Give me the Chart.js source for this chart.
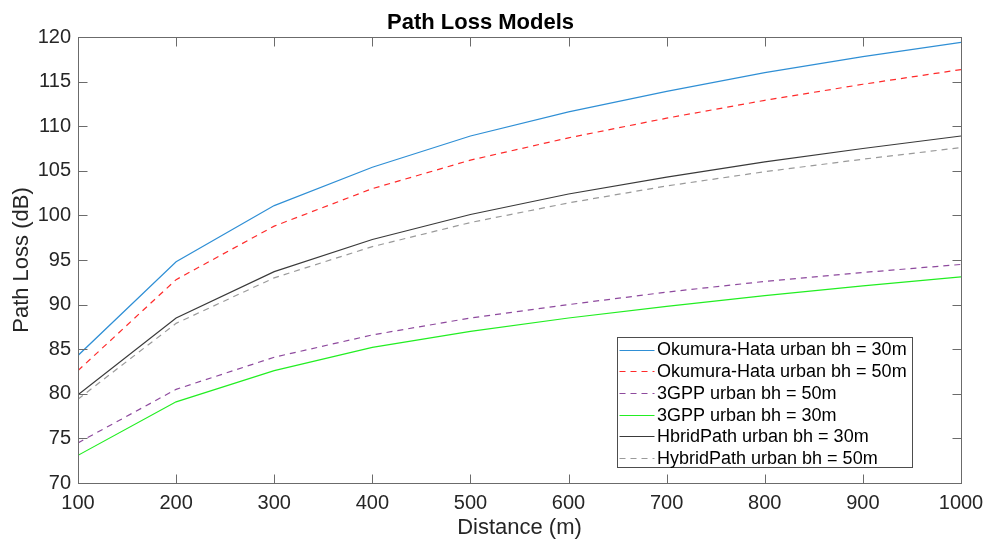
<!DOCTYPE html>
<html>
<head>
<meta charset="utf-8">
<script src="https://cdn.jsdelivr.net/npm/chart.js@4.4.1/dist/chart.umd.min.js"></script>
<style>
  html, body { margin: 0; padding: 0; background: #ffffff; }
  #wrap { width: 986px; height: 541px; }
</style>
</head>
<body>
<div id="wrap"><canvas id="c" width="986" height="541"></canvas></div>
<script>
// ---- data ----
const distances = [100, 200, 300, 400, 500, 600, 700, 800, 900, 1000];
const okumuraUrban30 = [84.3, 94.8, 101.1, 105.4, 108.9, 111.6, 113.9, 116.0, 117.8, 119.4];
const okumuraUrban50 = [82.6, 92.8, 98.8, 103.0, 106.2, 108.7, 110.9, 112.9, 114.7, 116.35];
const gppUrban50     = [74.5, 80.5, 84.1, 86.6, 88.5, 90.0, 91.4, 92.6, 93.6, 94.5];
const gppUrban30     = [73.1, 79.1, 82.6, 85.2, 87.0, 88.5, 89.8, 91.0, 92.1, 93.1];
const hybridUrban30  = [79.9, 88.5, 93.7, 97.3, 100.1, 102.4, 104.3, 106.0, 107.5, 108.9];
const hybridUrban50  = [79.4, 87.9, 93.0, 96.5, 99.2, 101.4, 103.3, 104.9, 106.3, 107.6];
const seriesLabels = [
  'Okumura-Hata urban bh = 30m',
  'Okumura-Hata urban bh = 50m',
  '3GPP urban bh = 50m',
  '3GPP urban bh = 30m',
  'HbridPath urban bh = 30m',
  'HybridPath urban bh = 50m'
];
const xTickValues = [100, 200, 300, 400, 500, 600, 700, 800, 900, 1000];
const yTickValues = [70, 75, 80, 85, 90, 95, 100, 105, 110, 115, 120];
const chartTitle = 'Path Loss Models';
const xTitle = 'Distance (m)';
const yTitle = 'Path Loss (dB)';

const FONT = "'Liberation Sans', Arial, Helvetica, sans-serif";
const TEXT = '#262626';

function pts(arr) { return distances.map((d, i) => ({ x: d, y: arr[i] })); }

const styles = [
  { color: '#2f8fd5', dash: [] },
  { color: '#ff2a2a', dash: [6, 5] },
  { color: '#8e4a9e', dash: [6, 5] },
  { color: '#22ee22', dash: [] },
  { color: '#3a3a3a', dash: [] },
  { color: '#9a9a9a', dash: [6, 5] }
];
const seriesValues = [okumuraUrban30, okumuraUrban50, gppUrban50, gppUrban30, hybridUrban30, hybridUrban50];

const datasets = seriesValues.map((vals, i) => ({
  label: seriesLabels[i],
  data: pts(vals),
  borderColor: styles[i].color,
  backgroundColor: styles[i].color,
  borderDash: styles[i].dash,
  borderWidth: 1.2,
  pointRadius: 0,
  tension: 0,
  fill: false
}));

// box + inward ticks, MATLAB style
const boxPlugin = {
  id: 'boxTicks',
  afterDatasetsDraw(chart) {
    const { ctx, chartArea: a, scales } = chart;
    const L = Math.round(a.left) + 0.5, R = Math.round(a.right) + 0.5;
    const T = Math.round(a.top) + 0.5, B = Math.round(a.bottom) + 0.5;
    ctx.save();
    ctx.strokeStyle = '#6b6b6b';
    ctx.lineWidth = 1;
    ctx.setLineDash([]);
    ctx.strokeRect(L, T, R - L, B - T);
    const tl = 9;
    ctx.beginPath();
    scales.x.ticks.forEach(t => {
      const px = Math.round(scales.x.getPixelForValue(t.value)) + 0.5;
      ctx.moveTo(px, B); ctx.lineTo(px, B - tl);
      ctx.moveTo(px, T); ctx.lineTo(px, T + tl);
    });
    scales.y.ticks.forEach(t => {
      const py = Math.round(scales.y.getPixelForValue(t.value)) + 0.5;
      ctx.moveTo(L, py); ctx.lineTo(L + tl, py);
      ctx.moveTo(R, py); ctx.lineTo(R - tl, py);
    });
    ctx.stroke();
    ctx.restore();
  }
};

// legend inside the axes, lower right
const legendPlugin = {
  id: 'innerLegend',
  afterDraw(chart) {
    const { ctx, chartArea: a } = chart;
    const ds = chart.data.datasets;
    ctx.save();
    ctx.font = '18px ' + FONT;
    let maxW = 0;
    ds.forEach(d => { maxW = Math.max(maxW, ctx.measureText(d.label).width); });
    const rowH = 21.7;
    const sampleStart = 2, sampleLen = 35, textGap = 2.5;
    const w = sampleStart + sampleLen + textGap + maxW + 6;
    const h = rowH * ds.length + 0.5;
    const right = Math.round(a.right - 49) + 0.5;
    const bottom = Math.round(a.bottom - 16) + 0.5;
    const left = Math.round(right - w) + 0.5;
    const top = Math.round(bottom - h) + 0.5;
    ctx.fillStyle = '#ffffff';
    ctx.fillRect(left, top, right - left, bottom - top);
    ctx.strokeStyle = '#4d4d4d';
    ctx.lineWidth = 1;
    ctx.setLineDash([]);
    ctx.strokeRect(left, top, right - left, bottom - top);
    ds.forEach((d, i) => {
      const cy = top + 12 + i * rowH;
      ctx.beginPath();
      ctx.strokeStyle = d.borderColor;
      ctx.lineWidth = 1.2;
      ctx.setLineDash(d.borderDash || []);
      ctx.moveTo(left + sampleStart, Math.round(cy) + 0.5);
      ctx.lineTo(left + sampleStart + sampleLen, Math.round(cy) + 0.5);
      ctx.stroke();
      ctx.setLineDash([]);
      ctx.fillStyle = '#000000';
      ctx.textAlign = 'left';
      ctx.textBaseline = 'middle';
      ctx.fillText(d.label, left + sampleStart + sampleLen + textGap, cy + 1);
    });
    ctx.restore();
  }
};

new Chart(document.getElementById('c'), {
  type: 'line',
  data: { datasets },
  plugins: [boxPlugin, legendPlugin],
  options: {
    responsive: false,
    animation: false,
    devicePixelRatio: 1,
    layout: { autoPadding: false, padding: { left: 0, right: 25, top: 0, bottom: 0 } },
    plugins: {
      legend: { display: false },
      tooltip: { enabled: false },
      title: {
        display: true,
        text: chartTitle,
        color: '#000000',
        font: { family: FONT, size: 22, weight: 'bold' },
        padding: { top: 10, bottom: 0.6 }
      }
    },
    scales: {
      x: {
        type: 'linear',
        min: 100,
        max: 1000,
        afterBuildTicks(scale) { scale.ticks = xTickValues.map(v => ({ value: v })); },
        afterFit(scale) { scale.height = 58; scale.paddingLeft = 0; scale.paddingRight = 0; },
        grid: { display: false, drawTicks: false },
        border: { display: false },
        ticks: {
          color: TEXT,
          padding: 8,
          maxRotation: 0,
          autoSkip: false,
          font: { family: FONT, size: 20 },
          callback: v => String(v)
        },
        title: {
          display: true,
          text: xTitle,
          color: TEXT,
          font: { family: FONT, size: 22 },
          padding: { top: 0, bottom: 0 }
        }
      },
      y: {
        type: 'linear',
        min: 70,
        max: 120,
        afterBuildTicks(scale) { scale.ticks = yTickValues.map(v => ({ value: v })); },
        afterFit(scale) { scale.width = 78; scale.paddingTop = 0; scale.paddingBottom = 0; },
        grid: { display: false, drawTicks: false },
        border: { display: false },
        ticks: {
          color: TEXT,
          padding: 7,
          autoSkip: false,
          font: { family: FONT, size: 20 },
          callback: v => String(v)
        },
        title: {
          display: true,
          text: yTitle,
          color: TEXT,
          font: { family: FONT, size: 22 },
          padding: { top: 9, bottom: 0 }
        }
      }
    }
  }
});
</script>
</body>
</html>
